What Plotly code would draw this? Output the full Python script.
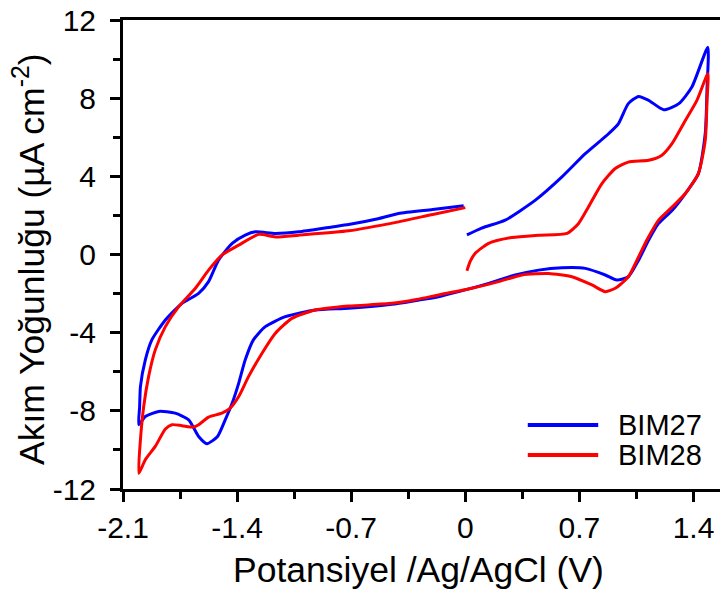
import plotly.graph_objects as go

# ---------------- data ----------------
bim27_v = [0.01, 0.10, 0.245, 0.43, 0.593, 0.736, 0.879, 0.94, 1.0, 1.063, 1.125, 1.217, 1.31, 1.39, 1.488,
           1.483, 1.472, 1.43, 1.35, 1.27, 1.186, 1.125, 1.063, 1.0, 0.93, 0.859, 0.736, 0.593, 0.45, 0.307,
           0.143, -0.04, -0.164, -0.3, -0.45, -0.716, -0.92, -1.104, -1.227, -1.30, -1.35, -1.39, -1.43,
           -1.473, -1.52, -1.585, -1.636, -1.697, -1.78, -1.881, -1.963, -2.003,
           -1.998, -1.993, -1.963, -1.923, -1.84, -1.738, -1.636, -1.575, -1.514, -1.43, -1.35, -1.288,
           -1.165, -1.023, -0.818, -0.716, -0.55, -0.41, -0.2, -0.01]
bim27_i = [1.0, 1.35, 1.76, 2.78, 3.97, 5.16, 6.18, 6.7, 7.72, 8.09, 7.89, 7.41, 7.72, 8.57, 10.6,
           8.5, 6.18, 4.14, 3.12, 2.27, 1.59, 0.74, -0.29, -1.14, -1.31, -1.05, -0.71, -0.68, -0.8, -1.05,
           -1.48, -1.9, -2.16, -2.35, -2.55, -2.75, -2.84, -3.18, -3.69, -4.37, -5.39, -6.58, -7.60,
           -8.46, -9.31, -9.68, -9.31, -8.46, -8.12, -8.03, -8.29, -8.71,
           -7.8, -6.76, -5.39, -4.37, -3.35, -2.5, -1.99, -1.39, -0.29, 0.57, 0.99, 1.16,
           1.08, 1.16, 1.41, 1.53, 1.8, 2.1, 2.3, 2.49]

bim28_v = [0.01, 0.03, 0.061, 0.143, 0.286, 0.45, 0.624, 0.695, 0.756, 0.838, 0.92, 1.0, 1.125, 1.206,
           1.268, 1.35, 1.421, 1.488,
           1.483, 1.472, 1.43, 1.35, 1.27, 1.186, 1.114, 1.063, 1.0, 0.92, 0.859, 0.777, 0.654, 0.511,
           0.347, 0.204, 0.04, -0.164, -0.3, -0.45, -0.716, -0.92, -1.064, -1.165, -1.247, -1.33, -1.39,
           -1.442, -1.493, -1.575, -1.636, -1.667, -1.738, -1.8, -1.84, -1.902, -1.963, -2.003,
           -1.993, -1.973, -1.943, -1.902, -1.84, -1.758, -1.656, -1.575, -1.493, -1.39, -1.268, -1.165,
           -1.023, -0.716, -0.41, -0.2, 0.0]
bim28_i = [-0.83, -0.35, 0.06, 0.57, 0.87, 0.99, 1.08, 1.59, 2.44, 3.63, 4.4, 4.73, 4.82, 5.08,
           5.67, 6.86, 7.89, 9.25,
           7.89, 5.84, 4.14, 3.12, 2.44, 1.76, 0.74, -0.12, -1.14, -1.73, -1.9, -1.56, -1.14, -0.97,
           -1.05, -1.39, -1.73, -2.07, -2.3, -2.5, -2.64, -2.84, -3.27, -4.03, -5.05, -6.25, -7.27,
           -7.86, -8.12, -8.32, -8.71, -8.83, -8.76, -8.71, -8.93, -9.82, -10.5, -11.2,
           -9.48, -7.78, -6.25, -4.88, -3.69, -2.67, -1.73, -0.8, -0.03, 0.48, 1.03, 0.9,
           0.99, 1.21, 1.67, 2.05, 2.4]

series_names = ["BIM27", "BIM28"]
series_colors = ["#0000FF", "#FF0000"]

x_tickvals = [-2.1, -1.4, -0.7, 0, 0.7, 1.4]
x_ticktext = ["-2.1", "-1.4", "-0.7", "0", "0.7", "1.4"]
x_minorvals = [-1.75, -1.05, -0.35, 0.35, 1.05]
y_tickvals = [-12, -8, -4, 0, 4, 8, 12]
y_ticktext = ["-12", "-8", "-4", "0", "4", "8", "12"]
y_minorvals = [-10, -6, -2, 2, 6, 10]

x_title = "Potansiyel /Ag/AgCl (V)"
y_title = "Akım Yoğunluğu (µA cm<sup>-2</sup>)"

FONT = "Liberation Sans, Arial, sans-serif"

fig = go.Figure()
for name, vv, ii, col in [(series_names[0], bim27_v, bim27_i, series_colors[0]),
                          (series_names[1], bim28_v, bim28_i, series_colors[1])]:
    fig.add_trace(go.Scatter(x=vv, y=ii, mode="lines", name=name,
                             line=dict(color=col, width=3, shape="spline", smoothing=0.6),
                             showlegend=False))

axis_common = dict(showline=True, linecolor="black", linewidth=3, ticks="outside",
                   ticklen=10, tickwidth=3, tickcolor="black", showgrid=False, zeroline=False,
                   tickfont=dict(family=FONT, size=30, color="black"))

fig.update_xaxes(range=[-2.1, 1.5626], tickmode="array", tickvals=x_tickvals, ticktext=x_ticktext,
                 mirror=True,
                 minor=dict(tickvals=x_minorvals, ticks="outside", ticklen=7, tickwidth=3,
                            tickcolor="black", showgrid=False),
                 **axis_common)
fig.update_yaxes(range=[-12, 12], tickmode="array", tickvals=y_tickvals, ticktext=y_ticktext,
                 minor=dict(tickvals=y_minorvals, ticks="outside", ticklen=7, tickwidth=3,
                            tickcolor="black", showgrid=False),
                 ticklabelstandoff=8,
                 **axis_common)

# custom legend
legend_y = [0.1365, 0.0725]
for name, col, ly in zip(series_names, series_colors, legend_y):
    fig.add_shape(type="line", xref="paper", yref="paper", x0=0.678, x1=0.796, y0=ly, y1=ly,
                  line=dict(color=col, width=4))
    fig.add_annotation(xref="paper", yref="paper", x=0.825, y=ly, text=name, showarrow=False,
                       xanchor="left", yanchor="middle", font=dict(family=FONT, size=29, color="black"))

fig.add_annotation(xref="paper", yref="paper", x=0.495, y=-0.1727, text=x_title, showarrow=False,
                   xanchor="center", yanchor="middle", font=dict(family=FONT, size=35.5, color="black"))
fig.add_annotation(xref="paper", yref="paper", x=-0.1575, y=0.4904, text=y_title, showarrow=False,
                   textangle=-90, xanchor="center", yanchor="middle",
                   font=dict(family=FONT, size=35.5, color="black"))

fig.update_layout(width=720, height=596, margin=dict(l=123, r=0, t=20, b=107),
                  plot_bgcolor="white", paper_bgcolor="white", showlegend=False)

fig.write_html("out.html")
